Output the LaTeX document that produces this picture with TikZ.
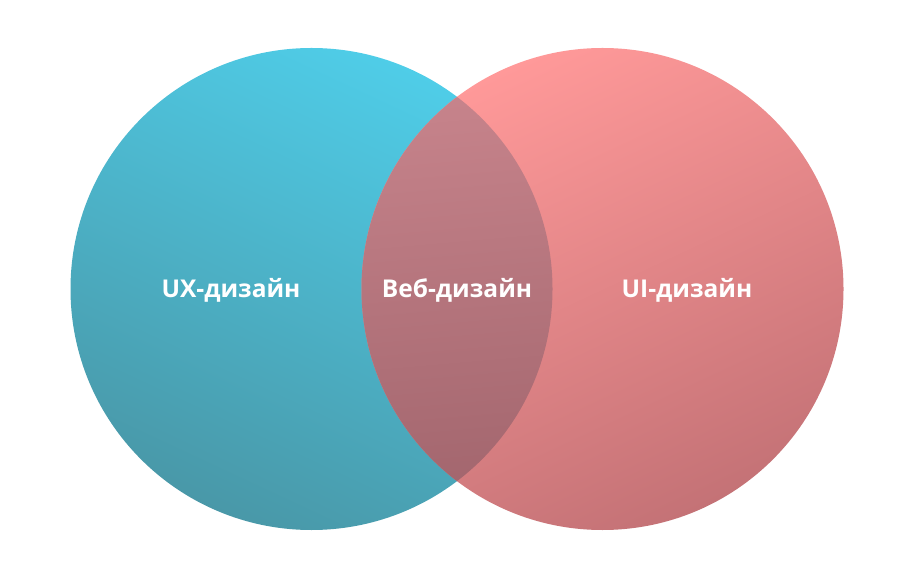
\documentclass[tikz,border=0pt]{standalone}
\usepackage{fontspec}
\setmainfont{Open Sans}
\definecolor{cyanlight}{RGB}{79,205,232}
\definecolor{cyandark}{RGB}{73,152,168}
\definecolor{pinklight}{RGB}{255,153,153}
\definecolor{pinkdark}{RGB}{196,114,118}
\definecolor{overlight}{RGB}{202,134,142}
\definecolor{overdark}{RGB}{158,98,106}
\tikzset{
  lbl/.style={text=white, font=\fontsize{24.5}{28}\selectfont\bfseries, anchor=base, inner sep=0pt},
}
\begin{document}
\begin{tikzpicture}[x=1pt,y=1pt]
\fill[white] (0,0) rectangle (915,584);
\useasboundingbox (0,0) rectangle (915,584);
\coordinate (cl) at (311.5,295);
\coordinate (cr) at (602.5,295);
\shade[top color=cyanlight, bottom color=cyandark, shading angle=-25] (cl) circle[radius=241];
\shade[top color=pinklight, bottom color=pinkdark, shading angle=25] (cr) circle[radius=241];
\begin{scope}
  \clip (cl) circle[radius=241];
  \shade[top color=overlight, bottom color=overdark, shading angle=5] (cr) circle[radius=241];
\end{scope}
\node[lbl] (ux) at (231,286.5) {UX-дизайн};
\node[lbl] (web) at (457,286.5) {Веб-дизайн};
\node[lbl] (ui) at (687,286.5) {UI-дизайн};
\end{tikzpicture}
\end{document}
